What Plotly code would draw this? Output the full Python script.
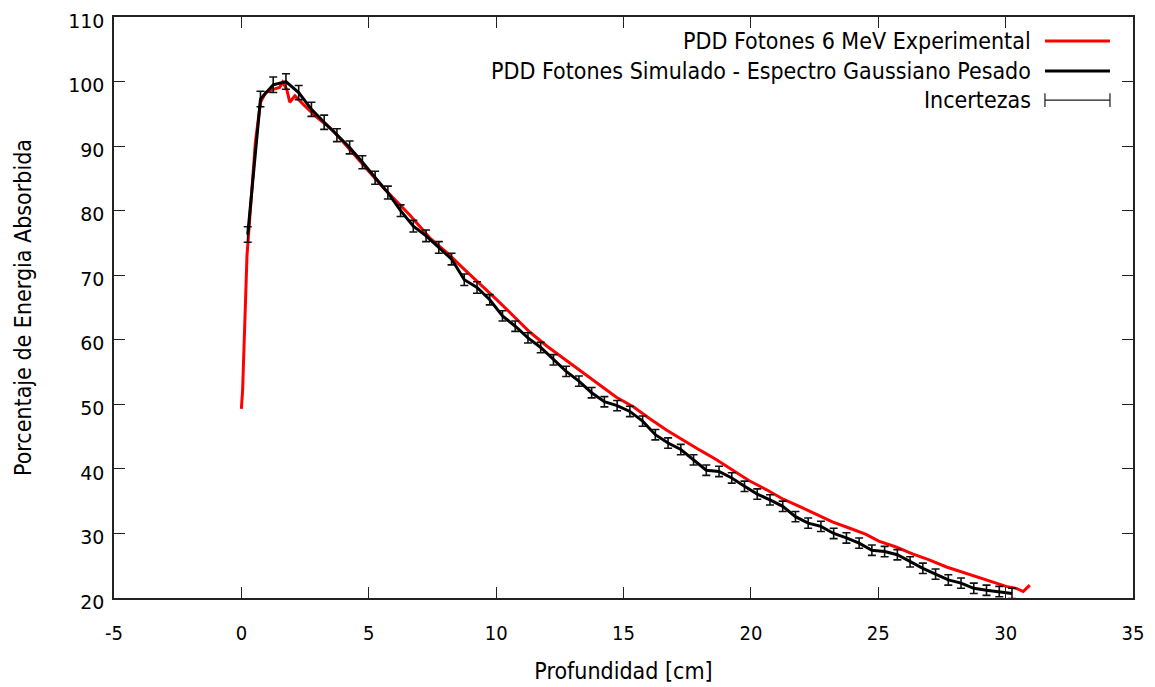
import plotly.graph_objects as go

# Simulated PDD (black line with error bars)
sim_x = [0.25 + 0.5 * i for i in range(61)]
sim_y = [76.3, 97.3, 99.5, 100.0, 98.3, 95.7, 93.7, 91.7, 89.8, 87.5,
         85.1, 82.8, 80.0, 77.6, 76.1, 74.3, 72.5, 69.3, 68.1, 66.2,
         63.7, 62.1, 60.3, 58.8, 56.9, 55.1, 53.6, 51.8, 50.4, 49.8,
         48.9, 47.4, 45.3, 44.0, 43.0, 41.4, 39.8, 39.6, 38.6, 37.3,
         36.1, 35.2, 34.2, 32.6, 31.6, 31.1, 30.0, 29.3, 28.5, 27.4,
         27.2, 26.7, 25.6, 24.6, 23.7, 22.8, 22.3, 21.5, 21.2, 21.0,
         20.7]
sim_err = [1.2, 1.2, 1.2, 1.2, 1.1, 1.1, 1.1, 1.0, 1.0, 1.0,
           1.0, 1.0, 0.9, 0.9, 0.9, 0.9, 0.9, 0.9, 0.9, 0.8,
           0.8, 0.8, 0.8, 0.8, 0.8, 0.8, 0.8, 0.8, 0.8, 0.8,
           0.8, 0.8, 0.8, 0.8, 0.8, 0.8, 0.8, 0.8, 0.8, 0.8,
           0.8, 0.8, 0.8, 0.8, 0.8, 0.8, 0.8, 0.8, 0.8, 0.8,
           0.8, 0.8, 0.8, 0.8, 0.8, 0.8, 0.8, 0.8, 0.8, 0.8,
           0.8]

# Experimental PDD (red line)
exp_x = [0.0, 0.05, 0.22, 0.35, 0.55, 0.75, 0.95, 1.25, 1.5, 1.62, 1.78, 1.9,
         2.1, 2.42, 2.92, 3.6, 4.25, 4.92, 5.56, 6.08, 6.62, 7.39, 8.1, 8.7,
         9.4, 10.0, 10.7, 11.32, 12.0, 12.63, 13.3, 13.94, 14.72, 15.4, 16.02,
         16.7, 17.32, 18.0, 18.62, 19.3, 19.92, 20.6, 21.27, 21.9, 22.57,
         23.2, 23.88, 24.5, 25.02, 25.7, 26.37, 27.0, 27.68, 28.3, 28.99,
         29.6, 30.02, 30.42, 30.69, 30.95]
exp_y = [49.3, 52.3, 73.0, 80.2, 90.6, 96.8, 98.3, 98.8, 99.1, 99.9, 98.8, 96.8,
         97.8, 96.5, 94.6, 92.4, 89.5, 86.4, 83.6, 81.5, 79.3, 75.8, 73.4, 71.1,
         68.6, 66.3, 63.6, 61.2, 59.0, 57.2, 55.2, 53.4, 51.1, 49.6, 47.8,
         46.0, 44.5, 42.9, 41.5, 39.8, 38.2, 36.8, 35.3, 34.2, 32.9,
         31.8, 30.8, 29.9, 28.8, 27.9, 26.8, 25.9, 24.8, 24.0, 23.2,
         22.4, 21.8, 21.5, 21.0, 22.0]

x_ticks = [-5, 0, 5, 10, 15, 20, 25, 30, 35]
x_ticktext = ["-5", "0", "5", "10", "15", "20", "25", "30", "35"]
y_ticks = [20, 30, 40, 50, 60, 70, 80, 90, 100, 110]

legend_labels = ["PDD Fotones 6 MeV Experimental",
                 "PDD Fotones Simulado - Espectro Gaussiano Pesado",
                 "Incertezas"]

COND = "DejaVu Sans Condensed, DejaVu Sans, sans-serif"

fig = go.Figure()
fig.add_trace(go.Scatter(x=exp_x, y=exp_y, mode="lines",
                         line=dict(color="#ff0000", width=3),
                         showlegend=False))
fig.add_trace(go.Scatter(x=sim_x, y=sim_y, mode="lines",
                         line=dict(color="#000000", width=3),
                         error_y=dict(type="data", array=sim_err, visible=True,
                                      color="#111111", thickness=1.6, width=4),
                         showlegend=False))

# custom legend (text left of sample, as in the reference)
rows = [0.9586, 0.9069, 0.8569]
x0, x1, xt = 0.9136, 0.9774, 0.9018
for lab, yy in zip(legend_labels, rows):
    fig.add_annotation(x=xt, y=yy, xref="paper", yref="paper", text=lab,
                       showarrow=False, xanchor="right", yanchor="middle",
                       font=dict(family=COND, size=23, color="#000"))
fig.add_shape(type="line", xref="paper", yref="paper", x0=x0, x1=x1,
              y0=rows[0], y1=rows[0], line=dict(color="#ff0000", width=3))
fig.add_shape(type="line", xref="paper", yref="paper", x0=x0, x1=x1,
              y0=rows[1], y1=rows[1], line=dict(color="#000000", width=3))
fig.add_shape(type="line", xref="paper", yref="paper", x0=x0, x1=x1,
              y0=rows[2], y1=rows[2], line=dict(color="#1a1a1a", width=1.2))
for xx in (x0, x1):
    fig.add_shape(type="line", xref="paper", yref="paper", x0=xx, x1=xx,
                  y0=rows[2] - 0.012, y1=rows[2] + 0.012,
                  line=dict(color="#1a1a1a", width=1.2))

fig.update_layout(
    width=1155, height=687,
    margin=dict(l=114, r=22, t=17, b=89),
    paper_bgcolor="white", plot_bgcolor="white",
    showlegend=False,
)
fig.update_xaxes(range=[-5, 35], tickvals=x_ticks, ticktext=x_ticktext,
                 ticks="inside", ticklen=11, automargin=False,
                 mirror="ticks", showline=True, linecolor="#222", linewidth=1.5,
                 tickcolor="#222", showgrid=False, zeroline=False,
                 ticklabelstandoff=16,
                 tickfont=dict(family=COND, size=20, color="#000"),
                 title=dict(text="Profundidad [cm]", standoff=19,
                            font=dict(family=COND, size=23, color="#000")))
fig.update_yaxes(range=[20, 110], tickvals=y_ticks, ticks="inside", ticklen=11,
                 automargin=False,
                 mirror="ticks", showline=True, linecolor="#222", linewidth=1.5,
                 tickcolor="#222", showgrid=False, zeroline=False,
                 ticklabelstandoff=4, ticklabelshift=4,
                 tickfont=dict(family="DejaVu Sans", size=19, color="#000"),
                 title=dict(text="Porcentaje de Energia Absorbida", standoff=30,
                            font=dict(family=COND, size=23, color="#000")))

fig.write_html("out.html")
